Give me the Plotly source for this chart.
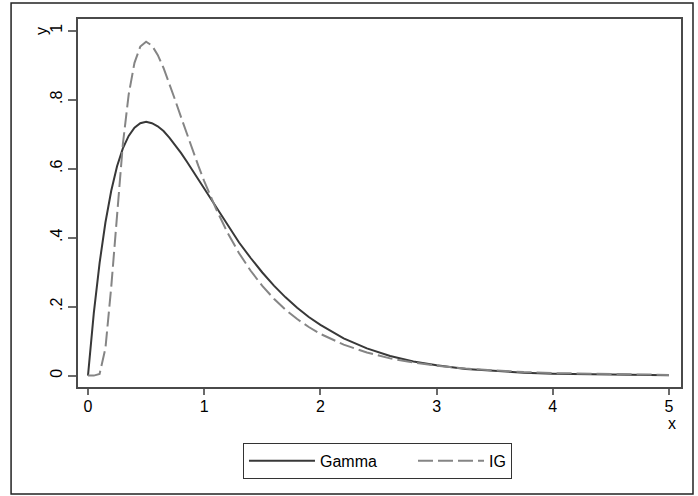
import plotly.graph_objects as go

# Data
x_gamma = [0, 0.05, 0.1, 0.15, 0.2, 0.25, 0.3, 0.35, 0.4, 0.45, 0.5, 0.55, 0.6, 0.65, 0.7, 0.75,
           0.8, 0.85, 0.9, 0.95, 1.0, 1.1, 1.2, 1.3, 1.4, 1.5, 1.6, 1.7, 1.8, 1.9, 2.0,
           2.2, 2.4, 2.6, 2.8, 3.0, 3.25, 3.5, 3.75, 4.0, 4.5, 5.0]
y_gamma = [0, 0.181, 0.327, 0.444, 0.536, 0.607, 0.659, 0.695, 0.719, 0.732, 0.736, 0.732, 0.723,
           0.709, 0.690, 0.669, 0.646, 0.621, 0.595, 0.568, 0.541, 0.488, 0.435, 0.386, 0.341,
           0.299, 0.261, 0.227, 0.197, 0.170, 0.147, 0.108, 0.079, 0.057, 0.041, 0.030, 0.0195,
           0.0128, 0.0083, 0.0054, 0.0022, 0.0009]

x_ig = [0, 0.05, 0.1, 0.15, 0.2, 0.25, 0.3, 0.35, 0.4, 0.45, 0.5, 0.55, 0.6, 0.65, 0.7, 0.75,
        0.8, 0.85, 0.9, 0.95, 1.0, 1.1, 1.2, 1.3, 1.4, 1.5, 1.6, 1.7, 1.8, 1.9, 2.0,
        2.2, 2.4, 2.6, 2.8, 3.0, 3.25, 3.5, 3.75, 4.0, 4.5, 5.0]
y_ig = [0, 0, 0.005, 0.079, 0.257, 0.476, 0.671, 0.815, 0.907, 0.954, 0.968, 0.957, 0.930,
        0.892, 0.847, 0.799, 0.750, 0.701, 0.654, 0.608, 0.564, 0.485, 0.415, 0.355, 0.304,
        0.260, 0.223, 0.191, 0.164, 0.141, 0.121, 0.090, 0.067, 0.050, 0.038, 0.0286, 0.0203,
        0.0145, 0.0103, 0.0074, 0.0039, 0.0021]

x_ticks = [0, 1, 2, 3, 4, 5]
x_tick_labels = ["0", "1", "2", "3", "4", "5"]
y_ticks = [0, 0.2, 0.4, 0.6, 0.8, 1.0]
y_tick_labels = ["0", ".2", ".4", ".6", ".8", "1"]
series_names = ["Gamma", "IG"]

FONT = "Liberation Sans, Arial, sans-serif"
AXLINE = "#4a4a4a"
TICK = "#6a6a6a"
NBSP = "\u00a0"

fig = go.Figure()
fig.add_trace(go.Scatter(x=x_gamma, y=y_gamma, mode="lines", name=series_names[0] + NBSP * 7,
                         line=dict(color="#383838", width=2)))
fig.add_trace(go.Scatter(x=x_ig, y=y_ig, mode="lines", name=series_names[1],
                         line=dict(color="#858585", width=2, dash="15px,5px")))

fig.update_layout(
    width=698, height=496,
    margin=dict(l=78, r=17, t=19, b=109),
    paper_bgcolor="white", plot_bgcolor="white",
    font=dict(family=FONT, size=16, color="#000000"),
    showlegend=True,
    legend=dict(orientation="h", x=0.2736, xanchor="left", y=-0.152, yanchor="top",
                bordercolor="#333333", borderwidth=1, font=dict(size=16),
                itemwidth=66, tracegroupgap=0),
    xaxis=dict(range=[-0.086, 5.103], tickvals=x_ticks, ticktext=x_tick_labels,
               showgrid=False, zeroline=False, showline=True, mirror=True,
               linecolor=AXLINE, linewidth=1.5, ticks="outside", ticklen=6,
               tickcolor=TICK, tickwidth=1.5, tickfont=dict(size=16),
               ticklabelstandoff=-2),
    yaxis=dict(range=[-0.033, 1.034], tickvals=y_ticks, ticktext=y_tick_labels,
               showgrid=False, zeroline=False, showline=True, mirror=True,
               linecolor=AXLINE, linewidth=1.5, ticks="outside", ticklen=8,
               tickcolor=TICK, tickwidth=1.5, tickangle=-90, tickfont=dict(size=16)),
)

# Axis titles (Stata style placement)
fig.add_annotation(text="y", xref="paper", yref="paper", x=-0.0614, y=0.967,
                   xanchor="center", yanchor="middle",
                   showarrow=False, textangle=-90, font=dict(size=16))
fig.add_annotation(text="x", xref="paper", yref="paper", x=0.985, y=-0.098,
                   xanchor="center", yanchor="middle",
                   showarrow=False, font=dict(size=16))

# Outer graph frame
fig.add_shape(type="rect", xref="paper", yref="paper", x0=-0.111, x1=1.0199,
              y0=-0.2908, y1=1.0435, line=dict(color="#222222", width=1.5))

fig.write_html("out.html")
